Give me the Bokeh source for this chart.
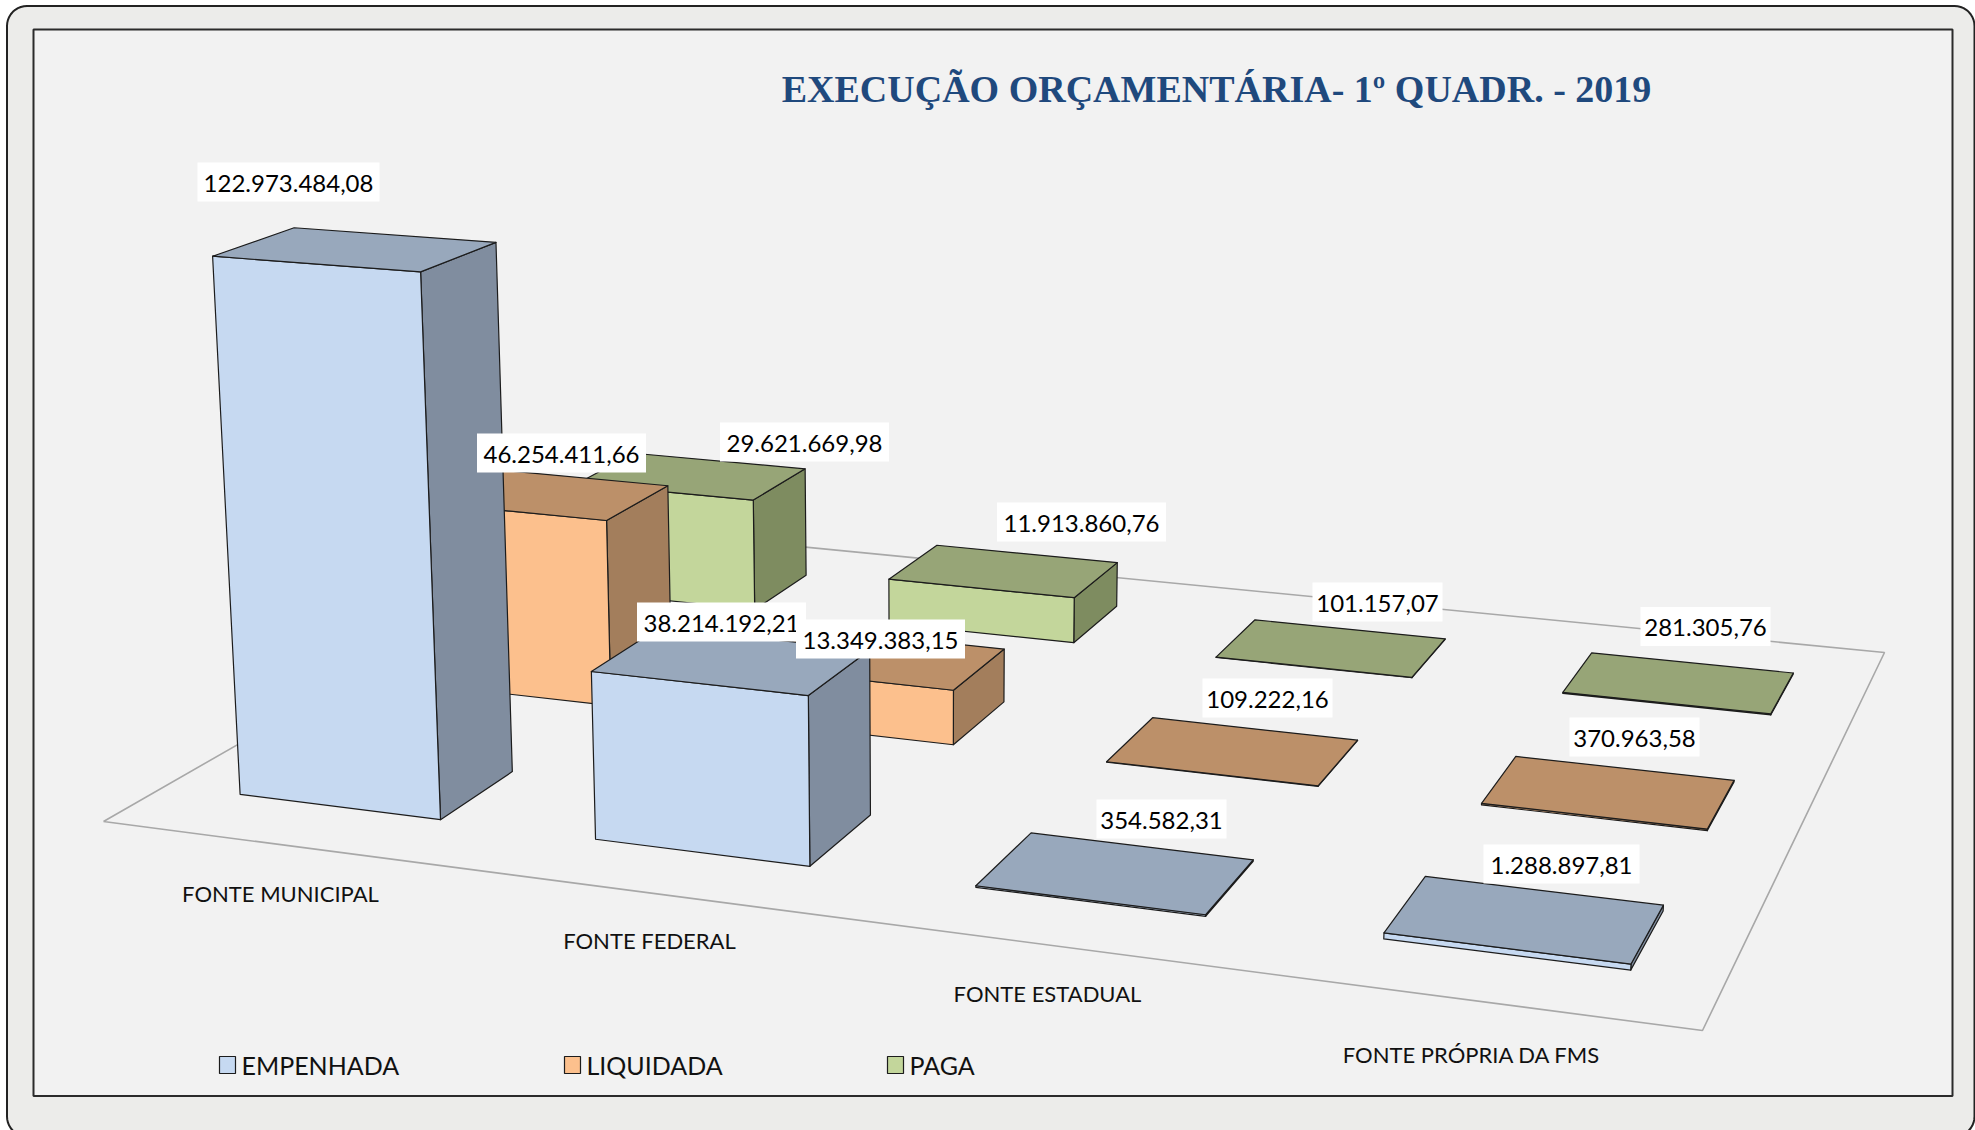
from bokeh.plotting import figure
from bokeh.models import ColumnDataSource
from bokeh.core.properties import value
from bokeh.embed import file_html
from bokeh.resources import INLINE

TITLE = "EXECUÇÃO ORÇAMENTÁRIA- 1º QUADR. - 2019"
CATEGORIES = ["FONTE MUNICIPAL", "FONTE FEDERAL", "FONTE ESTADUAL", "FONTE PRÓPRIA  DA FMS"]
SERIES = ["EMPENHADA", "LIQUIDADA", "PAGA"]
EMPENHADA = [122973484.08, 38214192.21, 354582.31, 1288897.81]
LIQUIDADA = [46254411.66, 13349383.15, 109222.16, 370963.58]
PAGA = [29621669.98, 11913860.76, 101157.07, 281305.76]
VALUES = [EMPENHADA, LIQUIDADA, PAGA]

# ---- styles / layout (kept apart from the data) ----
FONT = "Lato"
FRONT = ["#C6D9F1", "#FCC08D", "#C3D69B"]
TOP = ["#98A8BC", "#BC9069", "#97A577"]
SIDE = ["#808D9F", "#A37E5C", "#7E8C60"]
EDGE = "#1c1c1c"
# camera: floor corners (front-left, front-right, back-right, back-left)
FLOOR = [(103, 821), (1702, 1030), (1884, 652), (614, 528)]
VERTICAL_VP = (930, 14300)   # vanishing point of the value axis
K = -3.18e-4 / 1e6           # perspective gain per unit of value
CAT_GAP, ROW_GAP = 0.214, 0.30
CAT_LABEL_POS = [(280, 893), (649, 940), (1047, 993), (1474, 1054)]
# label-box centres: [series][category]
LABEL_POS = [[(288, 181.5), (721, 621.5), (1161, 818.5), (1561, 863.5)],
             [(561, 452.5), (880, 638.5), (1267, 697.5), (1634, 736.5)],
             [(804, 441.5), (1081, 521.5), (1377, 601.5), (1705, 626)]]
LEGEND_X = [219, 564, 887]


def homography(pts):
    (x0, y0), (x1, y1), (x2, y2), (x3, y3) = pts
    dx1, dx2, dx3 = x1 - x2, x3 - x2, x0 - x1 + x2 - x3
    dy1, dy2, dy3 = y1 - y2, y3 - y2, y0 - y1 + y2 - y3
    det = dx1 * dy2 - dx2 * dy1
    g = (dx3 * dy2 - dx2 * dy3) / det
    h = (dx1 * dy3 - dx3 * dy1) / det
    return (x1 - x0 + g * x1, x3 - x0 + h * x3, x0,
            y1 - y0 + g * y1, y3 - y0 + h * y3, y0, g, h)


HG = homography(FLOOR)


def project(s, t, z=0.0):
    a, b, c, d, e, f, g, h = HG
    kz = K * z
    w = g * s + h * t + 1 + kz
    return ((a * s + b * t + c + kz * VERTICAL_VP[0]) / w,
            (d * s + e * t + f + kz * VERTICAL_VP[1]) / w)


def br(v):
    txt = f"{v:,.2f}"
    return txt.replace(",", "X").replace(".", ",").replace("X", ".")


def rounded(x0, y0, x1, y1, r, n=10):
    import math
    cs = [(x1 - r, y0 + r, -90), (x1 - r, y1 - r, 0), (x0 + r, y1 - r, 90), (x0 + r, y0 + r, 180)]
    xs, ys = [], []
    for cx, cy, a0 in cs:
        for i in range(n + 1):
            a = math.radians(a0 + 90 * i / n)
            xs.append(cx + r * math.cos(a))
            ys.append(cy + r * math.sin(a))
    return xs, ys


p = figure(width=1975, height=1130, x_range=(0, 1975), y_range=(1130, 0),
           output_backend="svg", toolbar_location=None, min_border=0,
           background_fill_color="white", border_fill_color="white",
           outline_line_color=None)
p.axis.visible = False
p.grid.visible = False

# frames
fx, fy = rounded(6.5, 5.5, 1974, 1136, 20)
p.patch(fx, fy, fill_color="#ECECEA", line_color="#222222", line_width=2)
p.quad(left=33, right=1952, top=29, bottom=1095.5, fill_color="#F2F2F2",
       line_color="#2b2b2b", line_width=2)

# floor
fl = [project(s, t) for s, t in [(0, 0), (1, 0), (1, 1), (0, 1), (0, 0)]]
p.line([q[0] for q in fl], [q[1] for q in fl], line_color="#A8A8A8", line_width=1.6)

# bars, painted from back row to front row
xs, ys, colors = [], [], []
ncat, nrow = len(CATEGORIES), len(SERIES)
for r in reversed(range(nrow)):
    for c in range(ncat):
        z = VALUES[r][c]
        s0 = (c + CAT_GAP) / ncat
        s1 = (c + 1 - CAT_GAP) / ncat
        t0 = (r + ROW_GAP) / nrow
        t1 = (r + 1 - ROW_GAP) / nrow
        faces = [
            ([(s1, t0, 0), (s1, t1, 0), (s1, t1, z), (s1, t0, z)], SIDE[r]),
            ([(s0, t0, 0), (s1, t0, 0), (s1, t0, z), (s0, t0, z)], FRONT[r]),
            ([(s0, t0, z), (s1, t0, z), (s1, t1, z), (s0, t1, z)], TOP[r]),
        ]
        for corners, col in faces:
            pts = [project(*q) for q in corners]
            xs.append([q[0] for q in pts])
            ys.append([q[1] for q in pts])
            colors.append(col)
p.patches("xs", "ys", source=ColumnDataSource(dict(xs=xs, ys=ys, color=colors)),
          fill_color="color", line_color=EDGE, line_width=1.2, line_join="round")

# value labels (38.214.192,21 sits under 13.349.383,15)
order = [(0, 0), (1, 0), (2, 0), (2, 1), (0, 1), (1, 1), (0, 2), (1, 2), (2, 2), (0, 3), (1, 3), (2, 3)]
for r, c in order:
    x, y = LABEL_POS[r][c]
    txt = br(VALUES[r][c])
    wid = 13.0 * len(txt)
    p.rect(x=[x], y=[y], width=wid, height=39, fill_color="white", line_color=None)
    p.text(x=[x], y=[y + 1], text=[txt], text_font=value(FONT), text_font_size="24px",
           text_align="center", text_baseline="middle", text_color="black")

# category labels
p.text(x=[q[0] for q in CAT_LABEL_POS], y=[q[1] for q in CAT_LABEL_POS], text=CATEGORIES,
       text_font=value(FONT), text_font_size="22px", text_align="center",
       text_baseline="middle", text_color="#111111")

# legend
for i, name in enumerate(SERIES):
    x = LEGEND_X[i]
    p.quad(left=x, right=x + 16, top=1056, bottom=1073, fill_color=FRONT[i],
           line_color=EDGE, line_width=1.2)
    p.text(x=[x + 22], y=[1064], text=[name], text_font=value(FONT), text_font_size="25px",
           text_align="left", text_baseline="middle", text_color="#111111")

# title
p.text(x=[1216], y=[88], text=[TITLE], text_font=value("Liberation Serif"),
       text_font_size="38px", text_font_style="bold", text_align="center",
       text_baseline="middle", text_color="#1F497D")

open("out.html", "w").write(file_html(p, INLINE))
